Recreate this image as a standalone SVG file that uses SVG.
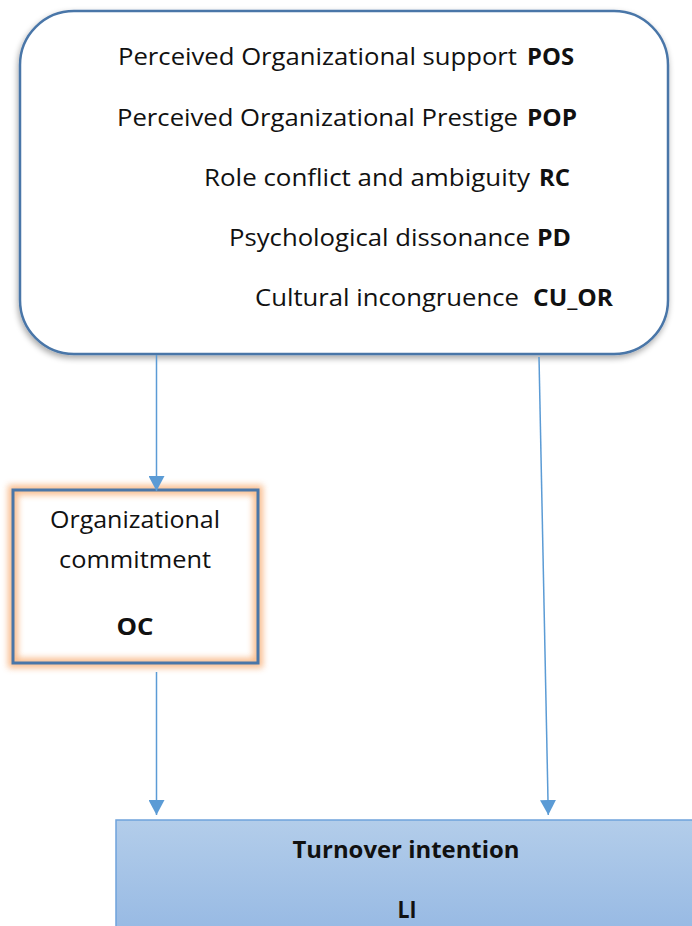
<svg xmlns="http://www.w3.org/2000/svg" width="692" height="926" viewBox="0 0 692 926">
  <defs>
    <style>
      .t { font-family: "Open Sans", Lato, "Liberation Sans", sans-serif; font-size: 23px; fill: #111; }
      .b { font-weight: bold; }
      .link { stroke: #5b9bd5; stroke-width: 1.5; fill: none; }
    </style>
    <filter id="shadow" x="-10%" y="-10%" width="120%" height="125%">
      <feGaussianBlur in="SourceAlpha" stdDeviation="3"/>
      <feOffset dx="-1" dy="3" result="o"/>
      <feComponentTransfer><feFuncA type="linear" slope="0.35"/></feComponentTransfer>
      <feMerge><feMergeNode/><feMergeNode in="SourceGraphic"/></feMerge>
    </filter>
    <filter id="glow" x="-20%" y="-20%" width="140%" height="140%">
      <feGaussianBlur stdDeviation="3"/>
    </filter>
    <linearGradient id="liFill" x1="0" y1="0" x2="0" y2="1">
      <stop offset="0" stop-color="#b3cdea"/>
      <stop offset="1" stop-color="#95b8e3"/>
    </linearGradient>
    <marker id="arrow" viewBox="0 0 15 16" refX="15" refY="8" markerWidth="15" markerHeight="16" markerUnits="userSpaceOnUse" orient="auto">
      <path d="M0,0 L15,8 L0,16 Z" fill="#5b9bd5"/>
    </marker>
  </defs>

  <rect width="692" height="926" fill="#ffffff"/>

  <!-- antecedents -->
  <g id="antecedents">
    <rect x="20" y="11" width="648" height="343" rx="54" ry="54" fill="#ffffff" stroke="#4a76a8" stroke-width="2.5" filter="url(#shadow)"/>
    <text class="t" x="118" y="65" textLength="399" lengthAdjust="spacingAndGlyphs">Perceived Organizational support</text>
    <text class="t b" x="527" y="65" textLength="47" lengthAdjust="spacingAndGlyphs">POS</text>
    <text class="t" x="117" y="126" textLength="401" lengthAdjust="spacingAndGlyphs">Perceived Organizational Prestige</text>
    <text class="t b" x="527" y="126" textLength="50" lengthAdjust="spacingAndGlyphs">POP</text>
    <text class="t" x="204" y="186" textLength="326" lengthAdjust="spacingAndGlyphs">Role conflict and ambiguity</text>
    <text class="t b" x="539" y="186" textLength="31" lengthAdjust="spacingAndGlyphs">RC</text>
    <text class="t" x="229" y="246" textLength="301" lengthAdjust="spacingAndGlyphs">Psychological dissonance</text>
    <text class="t b" x="537" y="246" textLength="34" lengthAdjust="spacingAndGlyphs">PD</text>
    <text class="t" x="255" y="306" textLength="264" lengthAdjust="spacingAndGlyphs">Cultural incongruence</text>
    <text class="t b" x="533" y="306" textLength="80" lengthAdjust="spacingAndGlyphs">CU_OR</text>
  </g>

  <!-- organizational commitment -->
  <g id="oc">
    <rect x="13" y="490" width="245" height="173" fill="none" stroke="#f7a86b" stroke-width="10" opacity="0.75" filter="url(#glow)"/>
    <rect x="13" y="490" width="245" height="173" fill="none" stroke="#4a76a8" stroke-width="3"/>
    <text class="t" x="135" y="528" text-anchor="middle" textLength="170" lengthAdjust="spacingAndGlyphs">Organizational</text>
    <text class="t" x="135" y="568" text-anchor="middle" textLength="152" lengthAdjust="spacingAndGlyphs">commitment</text>
    <text class="t b" x="135" y="635" text-anchor="middle" font-size="26" textLength="37" lengthAdjust="spacingAndGlyphs">OC</text>
  </g>

  <!-- turnover intention -->
  <g id="li">
    <rect x="116" y="820" width="590" height="120" fill="url(#liFill)" stroke="#6fa3dc" stroke-width="1.5"/>
    <text class="t b" x="406" y="858" text-anchor="middle" textLength="227" lengthAdjust="spacingAndGlyphs">Turnover intention</text>
    <text class="t b" x="407" y="918" text-anchor="middle" textLength="19" lengthAdjust="spacingAndGlyphs">LI</text>
  </g>

  <!-- connectors -->
  <g id="connectors">
    <line class="link" x1="156.5" y1="355" x2="156.5" y2="491" marker-end="url(#arrow)"/>
    <line class="link" x1="539" y1="357" x2="548.3" y2="815" marker-end="url(#arrow)"/>
    <line class="link" x1="156.5" y1="672" x2="156.5" y2="815" marker-end="url(#arrow)"/>
  </g>
</svg>
